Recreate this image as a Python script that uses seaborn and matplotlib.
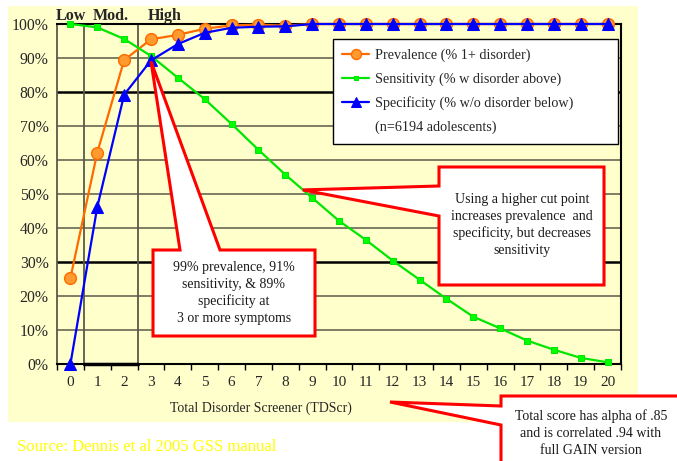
import numpy as np
import pandas as pd
import matplotlib
matplotlib.use("Agg")
import matplotlib.pyplot as plt
from matplotlib.patches import Rectangle, Polygon
from matplotlib.lines import Line2D
from matplotlib.ticker import FuncFormatter
import matplotlib.transforms as mtransforms
import seaborn as sns

# data (percent)
scores = list(range(21))
prevalence = [25.3, 62.2, 89.4, 95.5, 96.8, 98.6, 99.6, 99.8, 99.5, 100, 100,
              100, 100, 100, 100, 100, 100, 100, 100, 100, 100]
sensitivity = [100, 99.0, 95.6, 90.6, 84.2, 77.9, 70.6, 63.0, 55.7, 48.9, 42.1,
               36.5, 30.4, 24.8, 19.2, 13.9, 10.5, 6.9, 4.2, 1.8, 0.5]
specificity = [0, 46.2, 79.2, 89.3, 94.1, 97.4, 98.9, 99.2, 99.3, 100, 100,
               100, 100, 100, 100, 100, 100, 100, 100, 100, 100]
series_names = ["Prevalence (% 1+ disorder)",
                "Sensitivity (% w disorder above)",
                "Specificity (% w/o disorder below)"]
sample_note = "(n=6194 adolescents)"
level_labels = ["Low", "Mod.", "High"]
level_centers = [0, 1.5, 3.5]
level_cuts = [0.5, 2.5]

df = pd.DataFrame({"score": scores * 3,
                   "pct": prevalence + sensitivity + specificity,
                   "series": np.repeat(series_names, len(scores))})

sns.set_style("white")
plt.rcParams["font.family"] = ["Liberation Serif", "DejaVu Serif"]

W, H = 677, 461
bg = "#FFFFCC"
grid_col = "#5a5a48"

fig = plt.figure(figsize=(W / 100, H / 100), dpi=100)
fig.patches.append(Rectangle((8 / W, 1 - 422 / H), 630 / W, 416 / H,
                             transform=fig.transFigure, facecolor=bg,
                             edgecolor="none", zorder=-10))
ax = fig.add_axes([57 / W, 1 - 364 / H, 564 / W, 340 / H])
ax.set_facecolor(bg)

# gridlines and level separators
for v in range(10, 100, 10):
    heavy = v in (30, 80)
    ax.axhline(v, color="black" if heavy else grid_col, lw=1.8 if heavy else 1.1, zorder=1)
for c in level_cuts:
    ax.axvline(c, color=grid_col, lw=1.3, zorder=1)
ax.plot(level_cuts, [0, 0], color="black", lw=2.5, zorder=1, clip_on=False)

styles = [
    dict(color="#FF6A00", marker="o", markersize=8.5, markerfacecolor="#FF9A2E",
         markeredgecolor="#FF6A00", markeredgewidth=1),
    dict(color="#00E600", marker="s", markersize=4.2, markerfacecolor="#00FF00",
         markeredgecolor="#00E600"),
    dict(color="#0000FF", marker="^", markersize=8.5, markerfacecolor="#0000FF",
         markeredgecolor="#0000FF"),
]
for name, st in zip(series_names, styles):
    sns.lineplot(data=df[df["series"] == name], x="score", y="pct", ax=ax,
                 label=name, lw=1.6, clip_on=False, zorder=3, **st)

ax.set_xlim(-0.5, 20.5)
ax.set_ylim(0, 100)
ax.set_xlabel("")
ax.set_ylabel("")

ax.set_xticks(scores)
ax.set_xticks(np.arange(-0.5, 21, 1), minor=True)
ax.tick_params(axis="x", which="major", length=0, pad=9, labelsize=11)
ax.tick_params(axis="x", which="minor", length=4.5, width=1, direction="out",
               color="black", bottom=True)
ax.set_yticks(range(0, 101, 10))
ax.yaxis.set_major_formatter(FuncFormatter(lambda v, p: f"{v:.0f}%"))
ax.tick_params(axis="y", length=0, pad=6, labelsize=11.3)

for s in ("top", "right", "bottom"):
    ax.spines[s].set_color("black")
    ax.spines[s].set_linewidth(1.5)
ax.spines["left"].set_color(grid_col)
ax.spines["left"].set_linewidth(1.3)

# Low / Mod. / High labels above the plot
trans = mtransforms.blended_transform_factory(ax.transData, ax.transAxes)
for lab, xc in zip(level_labels, level_centers):
    ax.text(xc, 1.0, lab, transform=trans, ha="center", va="bottom",
            fontsize=11.5, fontweight="bold")

# legend
handles, labels = ax.get_legend_handles_labels()
handles.append(Line2D([], [], color="none"))
labels.append(sample_note)
leg = ax.legend(handles, labels, loc="upper left", mode="expand",
                bbox_to_anchor=(333 / W, 1 - 145 / H, 285 / W, 106 / H),
                bbox_transform=fig.transFigure,
                frameon=True, fancybox=False, edgecolor="black", framealpha=1,
                fontsize=10.2, labelspacing=0.75, handlelength=1.9, markerscale=0.85,
                handletextpad=0.4, borderpad=0.65, borderaxespad=0)
leg.get_frame().set_linewidth(1.0)

fig.text(261 / W, 1 - 408 / H, "Total Disorder Screener (TDScr)",
         ha="center", va="center", fontsize=10)
fig.text(17 / W, 1 - 447 / H, "Source: Dennis et al 2005 GSS manual",
         ha="left", va="center", fontsize=12, color="#FFFF00")

# callouts drawn in pixel space on an overlay
ov = fig.add_axes([0, 0, 1, 1], zorder=5)
ov.set_xlim(0, W)
ov.set_ylim(H, 0)
ov.axis("off")


def to_px(x, y):
    return ov.transData.inverted().transform(ax.transData.transform((x, y)))


def callout(pts, text, center, fs=10):
    ov.add_patch(Polygon(pts, closed=True, facecolor="white", edgecolor="#FF0000",
                         lw=2.2, joinstyle="miter", clip_on=False))
    ov.text(center[0], center[1], text, ha="center", va="center", fontsize=fs,
            linespacing=1.38, color="#1a1a1a")


tip1 = to_px(3, 89)
callout([(153, 250), (180, 250), tuple(tip1), (220, 250), (315, 250),
         (315, 336), (153, 336)],
        "99% prevalence, 91%\nsensitivity, & 89%\nspecificity at\n3 or more symptoms",
        (234, 293))

tip2 = to_px(8.65, 51.2)
callout([(439, 167), (604, 167), (604, 285), (439, 285), (439, 216),
         tuple(tip2), (439, 186)],
        "Using a higher cut point\nincreases prevalence  and\nspecificity, but decreases\nsensitivity",
        (522, 225))

callout([(501, 396), (700, 396), (700, 480), (501, 480), (501, 425),
         (390, 402), (501, 406)],
        "Total score has alpha of .85\nand is correlated .94 with\nfull GAIN version",
        (591, 433))

fig.savefig("out.png", dpi=100, facecolor="white")
